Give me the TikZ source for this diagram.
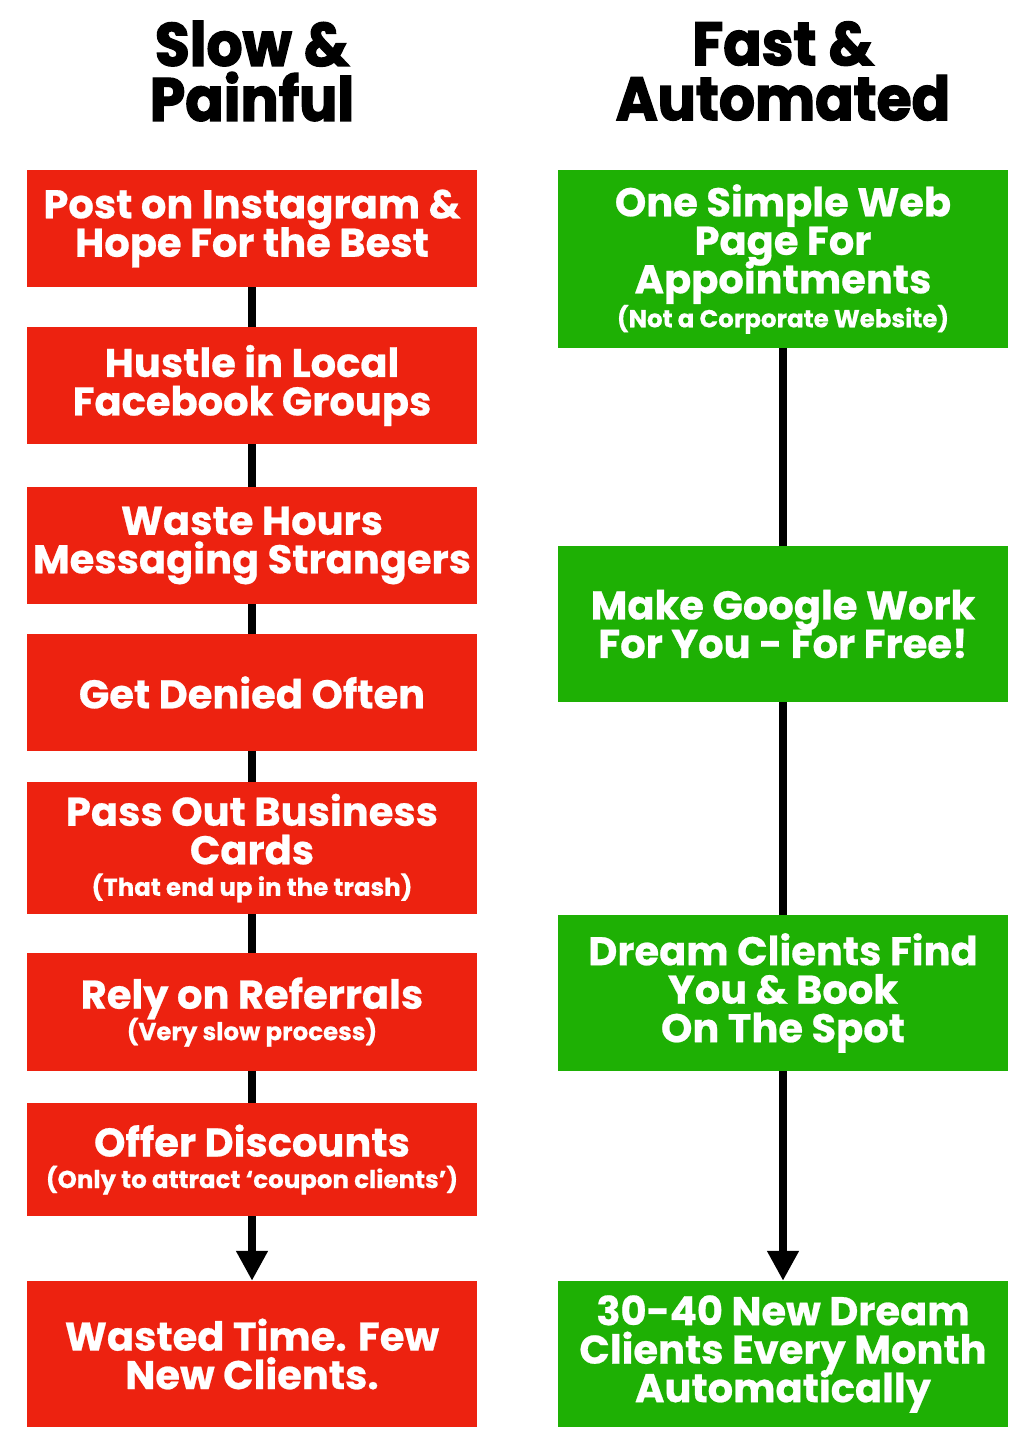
\documentclass[tikz,border=0pt]{standalone}
\usepackage{fontspec}
\setmainfont{Poppins}[BoldFeatures={FakeBold=0.6}]
\newfontfamily\headfont{Poppins}[FakeStretch=0.93,BoldFeatures={FakeBold=2.2}]
\usetikzlibrary{arrows.meta}
\definecolor{alarm}{RGB}{237,34,16}
\definecolor{grass}{RGB}{30,176,4}
\lineskiplimit=-100pt
\tikzset{
  >={Triangle[width=30pt,length=30pt]},
  card/.style={fill=#1,text=white,font=\fontsize{40}{38.5}\selectfont\bfseries,
    align=center,minimum width=450pt,inner sep=0pt},
  card/.default=alarm,
  link/.style={line width=8pt,draw=black},
  head/.style={font=\headfont\fontsize{61}{55}\selectfont\bfseries,align=center},
}
\newcommand{\aside}[1]{{\fontsize{24.5}{30}\selectfont #1}}

\begin{document}
\begin{tikzpicture}[x=1pt,y=-1pt]
  \useasboundingbox (0,0) rectangle (1033,1440);
  \node[head] (hslow) at (252,71) {Slow \&\\Painful};
  \node[head] (hfast) at (783,71) {Fast \&\\Automated};
  % slow column
  \foreach \y/\h/\t [count=\i] in {
    228.5/117/Post on Instagram \&\\Hope For the Best,
    385.5/117/Hustle in Local\\Facebook Groups,
    545.5/117/Waste Hours\\Messaging Strangers,
    692.5/117/Get Denied Often,
    848/132/Pass Out Business\\Cards\\[-7pt]\aside{(That end up in the trash)},
    1012/118/Rely on Referrals\\[-7pt]\aside{(Very slow process)},
    1159.5/113/Offer Discounts\\[-7pt]\aside{(Only to attract ‘coupon clients’)},
    1354/146/Wasted Time. Few\\New Clients.}
    \node[card,minimum height=\h] (s\i) at (252,\y) {\t};
  % fast column
  \foreach \y/\h/\t [count=\i] in {
    259/178/One Simple Web\\Page For\\Appointments\\[-4.5pt]\aside{(Not a Corporate Website)},
    624/156/Make Google Work\\For You - For Free!,
    993/156/Dream Clients Find\\You \& Book\\On The Spot,
    1354/146/30-40 New Dream\\Clients Every Month\\Automatically}
    \node[card=grass,minimum height=\h] (f\i) at (783,\y) {\t};
  \foreach \i [evaluate=\i as \j using int(\i+1)] in {1,...,6} \draw[link] (s\i) -- (s\j);
  \draw[link,->] (s7) -- (s8);
  \foreach \i [evaluate=\i as \j using int(\i+1)] in {1,2} \draw[link] (f\i) -- (f\j);
  \draw[link,->] (f3) -- (f4);
\end{tikzpicture}
\end{document}
